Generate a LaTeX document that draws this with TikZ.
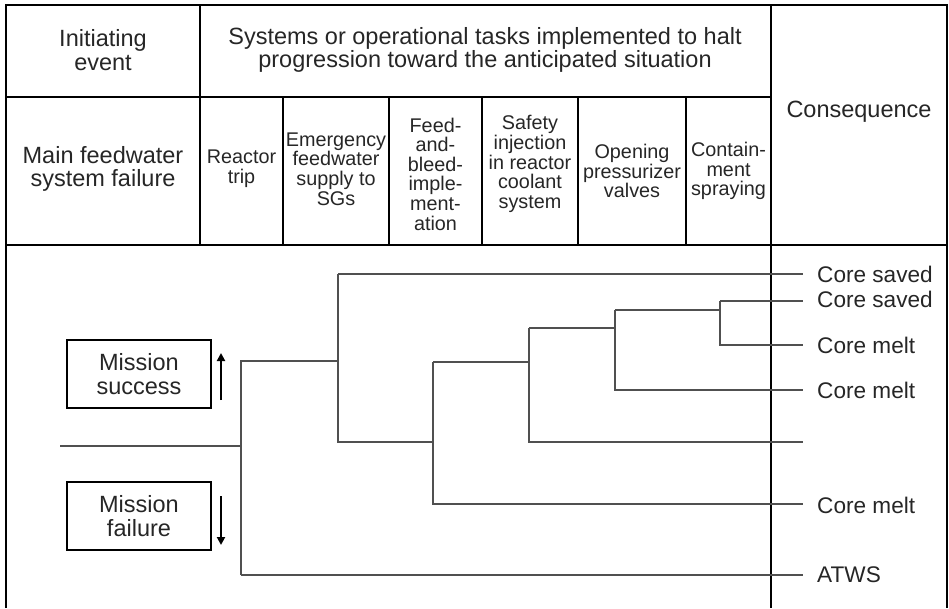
\documentclass[tikz,border=0pt]{standalone}
\usepackage{fontspec}
\setmainfont{Liberation Sans}
\usetikzlibrary{arrows.meta}
\definecolor{txt}{HTML}{262626}
\definecolor{tree}{HTML}{505050}
\begin{document}
\begin{tikzpicture}[x=1pt,y=-1pt,
  frame/.style={line width=2.4pt,black},
  grid/.style={line width=1.9pt,black},
  branch/.style={line width=1.2pt,tree},
  bigtxt/.style={text=txt,align=center,font=\fontsize{23.5}{23.5}\selectfont,inner sep=0pt},
  subtxt/.style={text=txt,align=center,font=\fontsize{19.8}{19.6}\selectfont,inner sep=0pt},
  outtxt/.style={text=txt,anchor=west,font=\fontsize{22.6}{23}\selectfont,inner sep=0pt},
  legbox/.style={draw=black,line width=1.9pt,minimum width=144pt,minimum height=68pt,text=txt,align=center,font=\fontsize{23.5}{23.5}\selectfont,inner sep=0pt},
  legarrow/.style={line width=2.6pt,black,-{Triangle[length=8pt,width=8pt]}}
]
\useasboundingbox (0,0) rectangle (949,608);
% frame
\draw[frame] (6,608) -- (6,5) -- (947,5) -- (947,608);
\draw[frame] (6,245) -- (947,245);
\draw[grid] (6,97) -- (771,97);
\draw[grid] (771,5) -- (771,608);
\draw[grid] (200,5) -- (200,245);
\foreach \x in {283,389,482,578,686} \draw[grid] (\x,97) -- (\x,245);
% header texts
\node[bigtxt] (hinit) at (103,50) {Initiating\\event};
\node[bigtxt] (hsys) at (485,50) {Systems or operational tasks implemented to halt\\progression toward the anticipated situation};
\node[bigtxt] (hmain) at (103,169) {Main feedwater\\system failure};
\node[bigtxt] (hcons) at (859,112) {Consequence};
\node[subtxt] (hrt) at (241.5,169) {Reactor\\trip};
\node[subtxt] (hefw) at (336,169) {Emergency\\feedwater\\supply to\\SGs};
\node[subtxt] (hfb) at (435.5,174) {Feed-\\and-\\bleed-\\imple-\\ment-\\ation};
\node[subtxt] (hsi) at (530,164) {Safety\\injection\\in reactor\\coolant\\system};
\node[subtxt] (hop) at (632,171) {Opening\\pressurizer\\valves};
\node[subtxt] (hcs) at (728.5,171) {Contain-\\ment\\spraying};
% legend
\node[legbox] (succ) at (139,374) {Mission\\success};
\node[legbox] (fail) at (139,516) {Mission\\failure};
\coordinate (su1) at (221,400); \coordinate (su2) at (221,353);
\coordinate (fa1) at (221,496); \coordinate (fa2) at (221,545);
\draw[legarrow] (su1) -- (su2);
\draw[legarrow] (fa1) -- (fa2);
% tree coordinates
\coordinate (start) at (60,446);
\coordinate (a) at (241,446);
\coordinate (b) at (338,361);
\coordinate (c) at (433,442);
\coordinate (d) at (529,362);
\coordinate (e) at (615,328);
\coordinate (f) at (720,310);
\coordinate (e1) at (803,274);
\coordinate (e2) at (803,301);
\coordinate (e3) at (803,345);
\coordinate (e4) at (803,390);
\coordinate (e5) at (803,442);
\coordinate (e6) at (803,504);
\coordinate (e7) at (803,575);
% tree
\draw[branch] (start) -- (a);
\draw[branch] (a |- e7) -- (a |- b) -- (b);
\draw[branch] (a |- e7) -- (e7);
\draw[branch] (b |- e1) -- (b |- c) -- (c);
\draw[branch] (b |- e1) -- (e1);
\draw[branch] (c |- d) -- (c |- e6) -- (e6);
\draw[branch] (c |- d) -- (d);
\draw[branch] (d |- e) -- (d |- e5) -- (e5);
\draw[branch] (d |- e) -- (e);
\draw[branch] (e |- f) -- (e |- e4) -- (e4);
\draw[branch] (e |- f) -- (f);
\draw[branch] (f |- e2) -- (f |- e3) -- (e3);
\draw[branch] (f |- e2) -- (e2);
% outcomes
\node[outtxt] (o1) at (817,274) {Core saved};
\node[outtxt] (o2) at (817,299) {Core saved};
\node[outtxt] (o3) at (817,345) {Core melt};
\node[outtxt] (o4) at (817,390) {Core melt};
\node[outtxt] (o6) at (817,505) {Core melt};
\node[outtxt] (o7) at (817,575) {ATWS};
\end{tikzpicture}
\end{document}
